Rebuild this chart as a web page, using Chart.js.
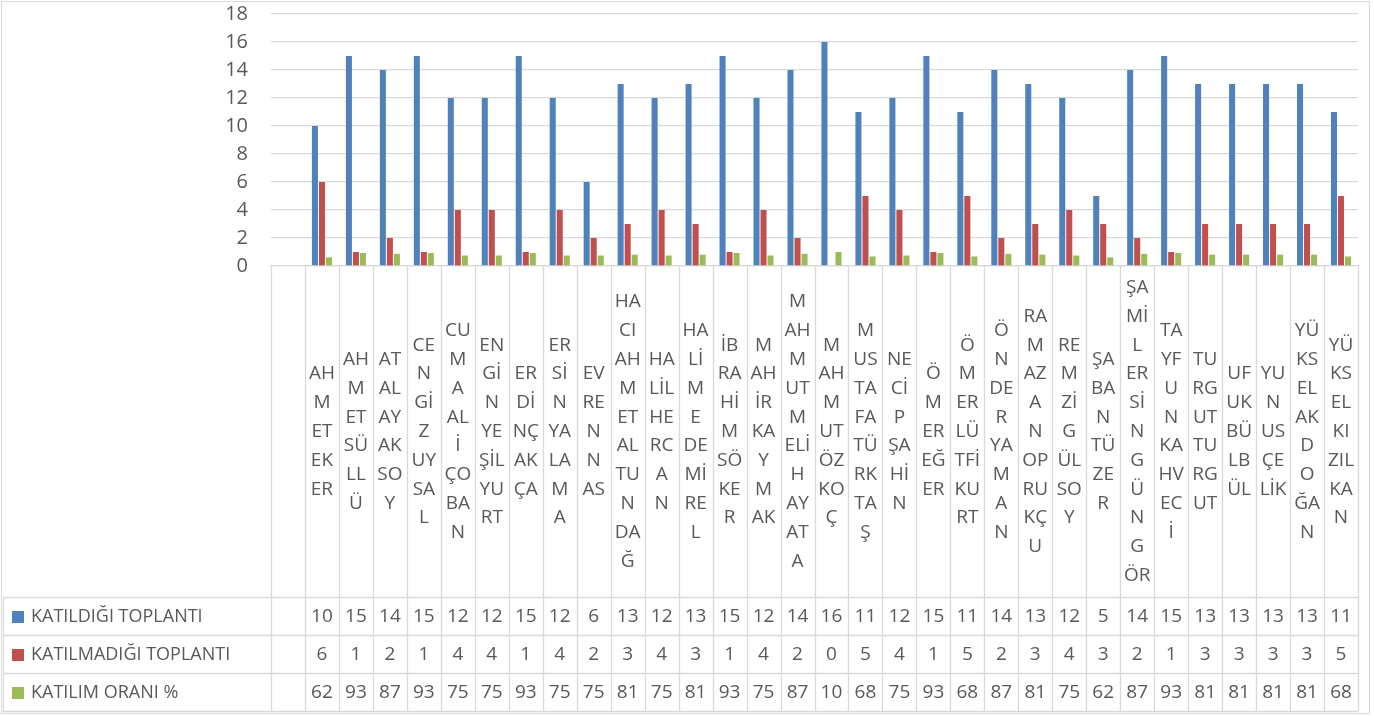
<!DOCTYPE html>
<html lang="tr">
<head>
<meta charset="utf-8">
<title>Toplantı katılım grafiği</title>
<script src="https://cdn.jsdelivr.net/npm/chart.js@4.4.1/dist/chart.umd.min.js"></script>
<style>
    html, body { margin: 0; padding: 0; background: #fff; }
    #grafik { display: block; }
</style>
</head>
<body>
<canvas id="grafik" width="1374" height="716"></canvas>
<script>
// Kategoriler (Excel'deki gibi satırlara bölünmüş isimler, ilk sütun boş)
const kategoriler = [
    [],
    ['AH', 'M', 'ET', 'EK', 'ER'],
    ['AH', 'M', 'ET', 'SÜ', 'LL', 'Ü'],
    ['AT', 'AL', 'AY', 'AK', 'SO', 'Y'],
    ['CE', 'N', 'Gİ', 'Z', 'UY', 'SA', 'L'],
    ['CU', 'M', 'A', 'AL', 'İ', 'ÇO', 'BA', 'N'],
    ['EN', 'Gİ', 'N', 'YE', 'ŞİL', 'YU', 'RT'],
    ['ER', 'Dİ', 'NÇ', 'AK', 'ÇA'],
    ['ER', 'Sİ', 'N', 'YA', 'LA', 'M', 'A'],
    ['EV', 'RE', 'N', 'N', 'AS'],
    ['HA', 'CI', 'AH', 'M', 'ET', 'AL', 'TU', 'N', 'DA', 'Ğ'],
    ['HA', 'LİL', 'HE', 'RC', 'A', 'N'],
    ['HA', 'Lİ', 'M', 'E', 'DE', 'Mİ', 'RE', 'L'],
    ['İB', 'RA', 'Hİ', 'M', 'SÖ', 'KE', 'R'],
    ['M', 'AH', 'İR', 'KA', 'Y', 'M', 'AK'],
    ['M', 'AH', 'M', 'UT', 'M', 'ELİ', 'H', 'AY', 'AT', 'A'],
    ['M', 'AH', 'M', 'UT', 'ÖZ', 'KO', 'Ç'],
    ['M', 'US', 'TA', 'FA', 'TÜ', 'RK', 'TA', 'Ş'],
    ['NE', 'Cİ', 'P', 'ŞA', 'Hİ', 'N'],
    ['Ö', 'M', 'ER', 'EĞ', 'ER'],
    ['Ö', 'M', 'ER', 'LÜ', 'TFİ', 'KU', 'RT'],
    ['Ö', 'N', 'DE', 'R', 'YA', 'M', 'A', 'N'],
    ['RA', 'M', 'AZ', 'A', 'N', 'OP', 'RU', 'KÇ', 'U'],
    ['RE', 'M', 'Zİ', 'G', 'ÜL', 'SO', 'Y'],
    ['ŞA', 'BA', 'N', 'TÜ', 'ZE', 'R'],
    ['ŞA', 'Mİ', 'L', 'ER', 'Sİ', 'N', 'G', 'Ü', 'N', 'G', 'ÖR'],
    ['TA', 'YF', 'U', 'N', 'KA', 'HV', 'EC', 'İ'],
    ['TU', 'RG', 'UT', 'TU', 'RG', 'UT'],
    ['UF', 'UK', 'BÜ', 'LB', 'ÜL'],
    ['YU', 'N', 'US', 'ÇE', 'LİK'],
    ['YÜ', 'KS', 'EL', 'AK', 'D', 'O', 'ĞA', 'N'],
    ['YÜ', 'KS', 'EL', 'KI', 'ZIL', 'KA', 'N']
];

// Seriler (boş ilk sütun için null)
const katildigi = [null, 10, 15, 14, 15, 12, 12, 15, 12, 6, 13, 12, 13, 15, 12, 14, 16, 11, 12, 15, 11, 14, 13, 12, 5, 14, 15, 13, 13, 13, 13, 11];
const katilmadigi = [null, 6, 1, 2, 1, 4, 4, 1, 4, 2, 3, 4, 3, 1, 4, 2, 0, 5, 4, 1, 5, 2, 3, 4, 3, 2, 1, 3, 3, 3, 3, 5];
const katilimOrani = [null, 0.62, 0.93, 0.87, 0.93, 0.75, 0.75, 0.93, 0.75, 0.75, 0.81, 0.75, 0.81, 0.93, 0.75, 0.87, 1.0, 0.68, 0.75, 0.93, 0.68, 0.87, 0.81, 0.75, 0.62, 0.87, 0.93, 0.81, 0.81, 0.81, 0.81, 0.68];
// Veri tablosunda görünen oran yazıları
const oranYazilari = ['', '62', '93', '87', '93', '75', '75', '93', '75', '75', '81', '75', '81', '93', '75', '87', '10', '68', '75', '93', '68', '87', '81', '75', '62', '87', '93', '81', '81', '81', '81', '68'];

const seriAdlari = ['KATILDIĞI TOPLANTI', 'KATILMADIĞI TOPLANTI', 'KATILIM ORANI %'];
const renkler = ['#4F81BD', '#C0504D', '#9BBB59'];
const yTikleri = [0, 2, 4, 6, 8, 10, 12, 14, 16, 18];

const yazi = '"Open Sans", sans-serif';
const yaziRengi = '#595959';
const cizgiRengi = '#D9D9D9';

// Veri tablosu ve etiketler için eklenti
const tabloEklentisi = {
    id: 'veriTablosu',
    beforeDraw(chart) {
        const ctx = chart.ctx;
        ctx.save();
        ctx.fillStyle = '#fff';
        ctx.fillRect(0, 0, chart.width, chart.height);
        ctx.strokeStyle = cizgiRengi;
        ctx.lineWidth = 1;
        ctx.strokeRect(1.5, 1.5, 1368, 712);
        ctx.restore();
    },
    afterDraw(chart) {
        const ctx = chart.ctx;
        const x = chart.scales.x;
        const alan = chart.chartArea;
        const n = kategoriler.length;
        const w = x.width / n;
        const satirlar = [597, 635, 673, 711];
        const tabloSol = 3;

        ctx.save();
        ctx.strokeStyle = cizgiRengi;
        ctx.lineWidth = 1.3;

        // dikey çizgiler
        for (let i = 0; i <= n; i++) {
            const px = Math.round(x.getPixelForValue(i) - w / 2) + 0.5;
            ctx.beginPath();
            ctx.moveTo(px, alan.bottom);
            ctx.lineTo(px, satirlar[3]);
            ctx.stroke();
        }
        ctx.beginPath();
        ctx.moveTo(tabloSol + 0.5, satirlar[0]);
        ctx.lineTo(tabloSol + 0.5, satirlar[3]);
        ctx.stroke();

        // yatay çizgiler
        satirlar.forEach(y => {
            ctx.beginPath();
            ctx.moveTo(tabloSol, y + 0.5);
            ctx.lineTo(alan.right, y + 0.5);
            ctx.stroke();
        });

        // kategori etiketleri
        ctx.fillStyle = yaziRengi;
        ctx.font = '19px ' + yazi;
        ctx.textAlign = 'center';
        ctx.textBaseline = 'middle';
        const ortaY = (alan.bottom + satirlar[0]) / 2;
        const satirYuk = 28.8;
        kategoriler.forEach((satir, i) => {
            const cx = x.getPixelForValue(i);
            const basY = ortaY - (satir.length - 1) * satirYuk / 2;
            satir.forEach((s, k) => ctx.fillText(s, cx, basY + k * satirYuk));
        });

        // tablo satırları
        const degerler = [
            katildigi.map(v => v === null ? '' : String(v)),
            katilmadigi.map(v => v === null ? '' : String(v)),
            oranYazilari
        ];
        for (let r = 0; r < 3; r++) {
            const cy = (satirlar[r] + satirlar[r + 1]) / 2 + 1;
            ctx.fillStyle = renkler[r];
            ctx.fillRect(12, cy - 6, 12, 12);
            ctx.fillStyle = yaziRengi;
            ctx.textAlign = 'left';
            ctx.font = '18px ' + yazi;
            ctx.fillText(seriAdlari[r], 31, cy);
            ctx.textAlign = 'center';
            ctx.font = '19px ' + yazi;
            degerler[r].forEach((d, i) => {
                ctx.fillText(d, x.getPixelForValue(i), cy);
            });
        }
        ctx.restore();
    }
};

const ctxGrafik = document.getElementById('grafik').getContext('2d');
new Chart(ctxGrafik, {
    type: 'bar',
    data: {
        labels: kategoriler,
        datasets: seriAdlari.map((ad, i) => ({
            label: ad,
            data: [katildigi, katilmadigi, katilimOrani][i],
            backgroundColor: renkler[i],
            borderWidth: 0,
            categoryPercentage: 0.62,
            barPercentage: 0.86
        }))
    },
    options: {
        responsive: false,
        animation: false,
        devicePixelRatio: 1,
        layout: { padding: { top: 14, right: 16, bottom: 0, left: 0 } },
        plugins: {
            legend: { display: false },
            tooltip: { enabled: false }
        },
        scales: {
            x: {
                grid: { display: false },
                border: { display: true, color: cizgiRengi, width: 1.3 },
                ticks: { display: false },
                afterFit: s => { s.height = 450; s.paddingLeft = 0; s.paddingRight = 0; }
            },
            y: {
                min: 0,
                max: 18,
                afterBuildTicks: s => { s.ticks = yTikleri.map(v => ({ value: v })); },
                ticks: {
                    color: yaziRengi,
                    padding: 23,
                    font: { family: yazi, size: 20 }
                },
                grid: { color: cizgiRengi, lineWidth: 1.3, drawTicks: false },
                border: { display: false },
                afterFit: s => { s.width = 271; s.paddingTop = 0; s.paddingBottom = 0; }
            }
        }
    },
    plugins: [tabloEklentisi]
});
</script>
</body>
</html>
